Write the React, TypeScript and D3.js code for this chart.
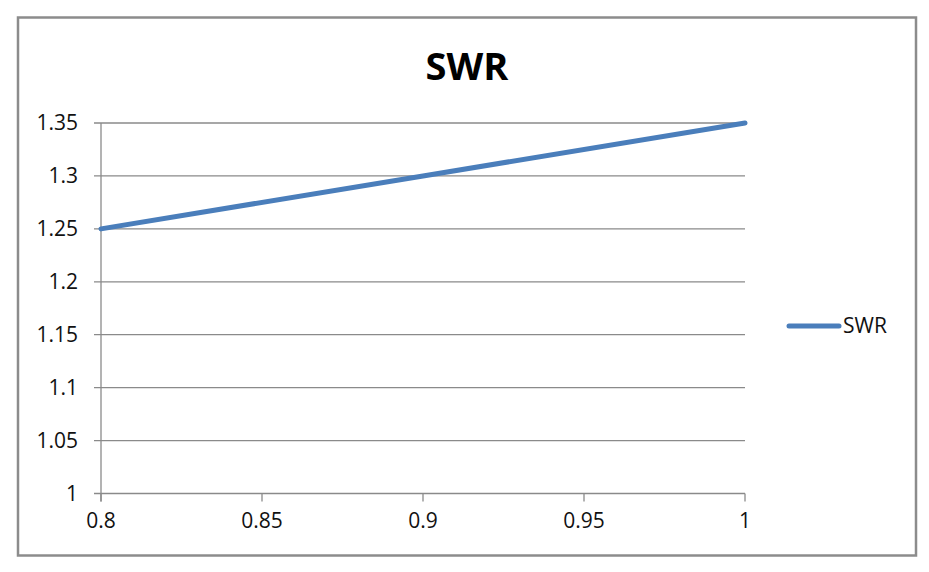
import React from "react";
import * as d3 from "d3";

const xValues = [0.8, 0.9, 1.0];
const swrValues = [1.25, 1.3, 1.35];
const xTicks = [0.8, 0.85, 0.9, 0.95, 1];
const yTicks = [1, 1.05, 1.1, 1.15, 1.2, 1.25, 1.3, 1.35];
const seriesName = "SWR";

const W = 929;
const H = 572;
const plot = { left: 101, right: 745, top: 123, bottom: 493.5 };
const font = "'Open Sans', 'Liberation Sans', sans-serif";

export default function App() {
    const x = d3.scaleLinear().domain([0.8, 1]).range([plot.left, plot.right]);
    const y = d3.scaleLinear().domain([1, 1.35]).range([plot.bottom, plot.top]);

    const line = d3.line<number>()
        .x((d, i) => x(xValues[i]))
        .y(d => y(d));

    const fmt = (v: number) => String(+v.toFixed(2));

    return <svg width={W} height={H} style={{ position: "absolute", left: 0, top: 0, background: "#fff" }}>
        <rect x={18} y={17.5} width={898} height={538} fill="#fff" stroke="#8c8c8c" strokeWidth={2.5} />
        <text x={467} y={80} textAnchor="middle" fontFamily={font} fontWeight="bold" fontSize={38} fill="#000">{seriesName}</text>

        {yTicks.map(t => <g key={"y" + t}>
            <line x1={plot.left - 7} x2={plot.right} y1={y(t)} y2={y(t)} stroke="#8a8a8a" strokeWidth={1.3} />
            <text x={78} y={y(t)} dy="0.35em" textAnchor="end" fontFamily={font} fontSize={21} fill="#111">{fmt(t)}</text>
        </g>)}

        <line x1={plot.left} x2={plot.left} y1={plot.top} y2={plot.bottom + 8} stroke="#8a8a8a" strokeWidth={1.3} />
        {xTicks.map(t => <g key={"x" + t}>
            <line x1={x(t)} x2={x(t)} y1={plot.bottom} y2={plot.bottom + 8} stroke="#8a8a8a" strokeWidth={1.3} />
            <text x={x(t)} y={521} dy="0.35em" textAnchor="middle" fontFamily={font} fontSize={21} fill="#111">{fmt(t)}</text>
        </g>)}

        <path d={line(swrValues) ?? ""} fill="none" stroke="#4a7ebb" strokeWidth={5} strokeLinecap="round" />

        <line x1={789} x2={839} y1={326} y2={326} stroke="#4a7ebb" strokeWidth={5} strokeLinecap="round" />
        <text x={843} y={326} dy="0.35em" fontFamily={font} fontSize={21} fill="#111">{seriesName}</text>
    </svg>;
}
